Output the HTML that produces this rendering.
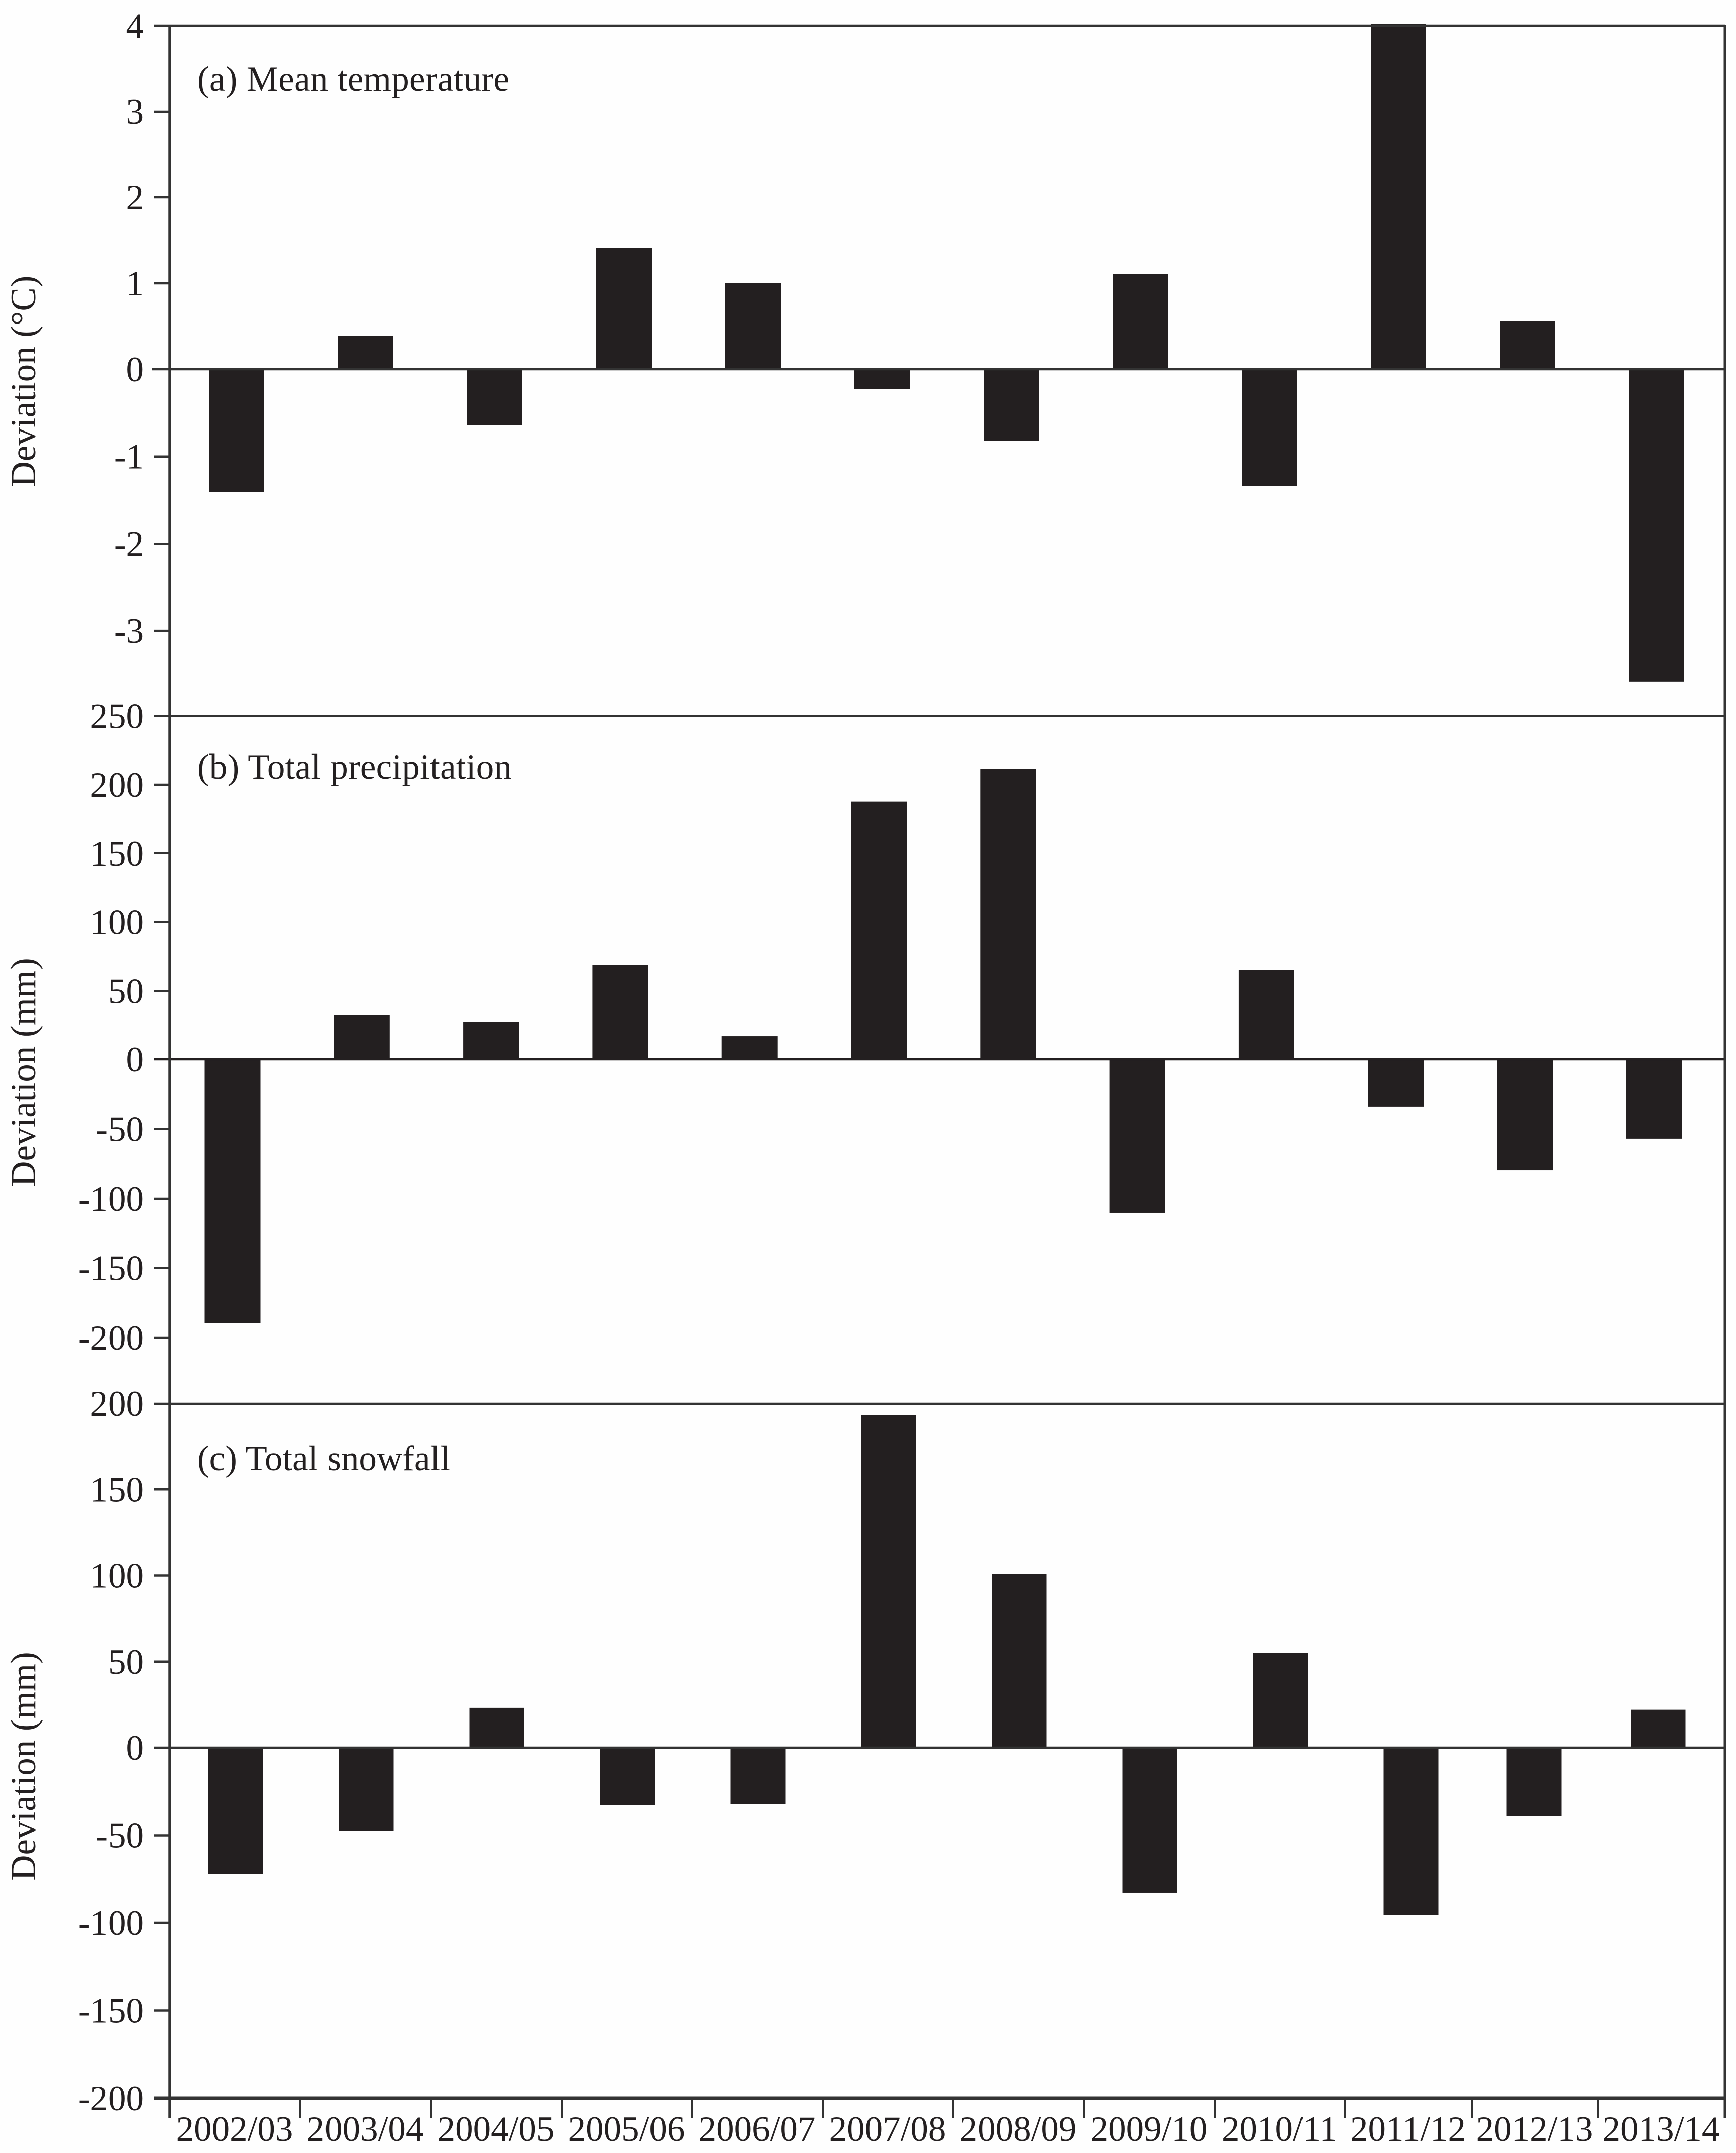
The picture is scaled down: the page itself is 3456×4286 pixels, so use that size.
<!DOCTYPE html>
<html lang="en">
<head>
<meta charset="utf-8">
<title>Winter climate deviations 2002/03 to 2013/14</title>
<style>
html,body{margin:0;padding:0;background:#fefefe;}
svg{display:block;}
text{font-family:"Liberation Serif",serif;fill:#231f20;}
</style>
</head>
<body>
<svg id="chart" xmlns="http://www.w3.org/2000/svg" width="3456" height="4286" viewBox="0 0 3456 4286">
<rect x="0" y="0" width="3456" height="4286" fill="#fefefe"/>
</svg>
<script>
const categories = ["2002/03","2003/04","2004/05","2005/06","2006/07","2007/08","2008/09","2009/10","2010/11","2011/12","2012/13","2013/14"];

const temperatureValues = [-1.41,0.39,-0.64,1.41,1.0,-0.23,-0.82,1.11,-1.34,4.02,0.56,-3.58];
const precipitationValues = [-189.5,32.5,27.4,68.4,16.8,187.7,211.7,-110.1,65.1,-33.9,-79.8,-57];
const snowfallValues = [-72,-47.3,23.1,-32.9,-32.3,193.3,101,-82.8,55,-95.7,-39.1,22];

const temperatureTicks = [4,3,2,1,0,-1,-2,-3];
const precipitationTicks = [250,200,150,100,50,0,-50,-100,-150,-200];
const snowfallTicks = [200,150,100,50,0,-50,-100,-150,-200];

const svg = document.getElementById('chart');
const NS = 'http://www.w3.org/2000/svg';
const INK = '#231f20';
const AXIS = '#333333';
const AXIS_LEFT = 338;
const AXIS_RIGHT = 3434;
const TICK_LEFT = 306;
const AXIS_END = 4217;

/* x-axis tick position: the first nine bands are wider than the last three */
function tickX(i) {
  return i <= 9 ? AXIS_LEFT + 260 * i : 2678 + 252 * (i - 9);
}

function make(tag, props) {
  const el = document.createElementNS(NS, tag);
  for (const k in props) el.setAttribute(k, props[k]);
  svg.appendChild(el);
  return el;
}

function yScale(panel, v) {
  return v >= 0 ? panel.zero - v * panel.posUnit : panel.zero - v * panel.negUnit;
}

const panels = [
  { id: 'temperature', letter: 'a', title: '(a) Mean temperature', titleWidth: 621, titleY: 181,
    axisTitle: 'Deviation (°C)', axisTitleY: 759, values: temperatureValues, ticks: temperatureTicks,
    zero: 735, posUnit: 171, negUnit: 173.7, barWidth: 110, zeroLeft: 302, zeroWidth: 4.5,
    barX: function (i) { return 471 + 257 * i; } },
  { id: 'precipitation', letter: 'b', title: '(b) Total precipitation', titleWidth: 626, titleY: 1550,
    axisTitle: 'Deviation (mm)', axisTitleY: 2135, values: precipitationValues, ticks: precipitationTicks,
    zero: 2109, posUnit: 2.735, negUnit: 2.77, barWidth: 111, zeroLeft: 306, zeroWidth: 4.5,
    barX: function (i) { return 463 + 257.3 * i; } },
  { id: 'snowfall', letter: 'c', title: '(c) Total snowfall', titleWidth: 503, titleY: 2927,
    axisTitle: 'Deviation (mm)', axisTitleY: 3516, values: snowfallValues, ticks: snowfallTicks,
    zero: 3479, posUnit: 3.425, negUnit: 3.49, barWidth: 109, zeroLeft: 306, zeroWidth: 4.5,
    barX: function (i) { return i <= 9 ? 469 + 260 * i : 3054 + 247 * (i - 10); } }
];

panels.forEach(function (p) {
  /* bars */
  p.values.forEach(function (v, i) {
    const y0 = yScale(p, 0);
    const y1 = yScale(p, v);
    const bar = make('rect', {
      x: p.barX(i) - p.barWidth / 2,
      y: Math.min(y0, y1),
      width: p.barWidth,
      height: Math.abs(y1 - y0),
      fill: INK
    });
    
    
  });

  /* zero line */
  const zeroLine = make('line', {
    x1: p.zeroLeft, x2: AXIS_RIGHT, y1: p.zero, y2: p.zero,
    stroke: p.letter === 'b' ? INK : AXIS, 'stroke-width': p.zeroWidth
  });
  
  

  /* y ticks and labels */
  p.ticks.forEach(function (t) {
    const y = yScale(p, t);
    if (t !== 0) {
      const isTop = t === p.ticks[0];
      const isBottom = p.letter === 'c' && t === p.ticks[p.ticks.length - 1];
      const tick = make('line', {
        x1: TICK_LEFT,
        x2: (isTop || isBottom) ? AXIS_RIGHT : AXIS_LEFT,
        y1: y, y2: y,
        stroke: AXIS,
        'stroke-width': isBottom ? 7 : 4.5
      });
      
      
    }
    const label = make('text', {
      x: 286, y: y + 24, 'text-anchor': 'end', 'font-size': 71
    });
    label.textContent = String(t);
    
    
  });

  /* panel title */
  const title = make('text', {
    x: 393, y: p.titleY, 'font-size': 71,
    textLength: p.titleWidth, lengthAdjust: 'spacing'
  });
  title.textContent = p.title;
  
  

  /* y axis title */
  const yTitle = make('text', {
    x: 0, y: 0, 'font-size': 71, 'text-anchor': 'middle',
    transform: 'translate(70 ' + p.axisTitleY + ') rotate(-90)'
  });
  yTitle.textContent = p.axisTitle;
  
  
});

/* frame verticals */
const leftAxis = make('line', {
  x1: AXIS_LEFT, x2: AXIS_LEFT, y1: 49, y2: AXIS_END, stroke: AXIS, 'stroke-width': 5.5
});



const rightAxis = make('line', {
  x1: AXIS_RIGHT, x2: AXIS_RIGHT, y1: 49, y2: AXIS_END, stroke: AXIS, 'stroke-width': 5
});



/* x ticks and labels */
categories.forEach(function (c, i) {
  if (i > 0) {
    const xt = make('line', {
      x1: tickX(i), x2: tickX(i), y1: 4177, y2: AXIS_END, stroke: AXIS, 'stroke-width': 4
    });
    
    
  }
  const xl = make('text', {
    x: (tickX(i) + tickX(i + 1)) / 2 - 1, y: 4262, 'text-anchor': 'middle', 'font-size': 71
  });
  xl.textContent = c;
  
  
});
</script>
</body>
</html>
